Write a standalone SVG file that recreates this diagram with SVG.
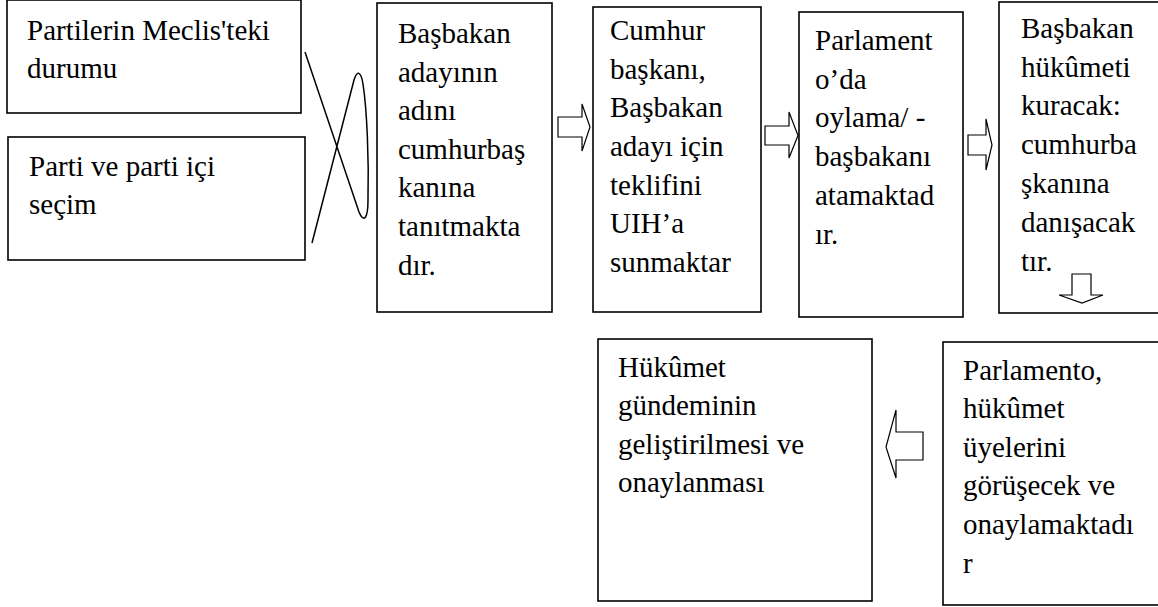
<svg xmlns="http://www.w3.org/2000/svg" width="1158" height="607" viewBox="0 0 1158 607" font-family="Liberation Serif, Times New Roman, serif">
<style>
.box{fill:#fff;stroke:#000;stroke-width:1.6}
.t{font-size:29px;fill:#000}
.arr{fill:#fff;stroke:#000;stroke-width:1.2;stroke-linejoin:miter}
.con{fill:none;stroke:#000;stroke-width:1.5}
</style>
<rect width="1158" height="607" fill="#fff"/>
<g id="n1"><rect class="box" x="7" y="0" width="294" height="113"/>
<text class="t" font-family="Liberation Serif, serif"><tspan x="27" y="40">Partilerin Meclis'teki</tspan><tspan x="27" y="78">durumu</tspan></text></g>
<g id="n2"><rect class="box" x="8" y="137" width="297" height="123"/>
<text class="t" font-family="Liberation Serif, serif"><tspan x="29" y="176">Parti ve parti içi</tspan><tspan x="29" y="214">seçim</tspan></text></g>
<g id="n3"><rect class="box" x="377" y="3" width="175" height="309"/>
<text class="t" font-family="Liberation Serif, serif"><tspan x="398" y="43">Başbakan</tspan><tspan x="398" y="82">adayının</tspan><tspan x="398" y="120">adını</tspan><tspan x="398" y="159">cumhurbaş</tspan><tspan x="398" y="197">kanına</tspan><tspan x="398" y="236">tanıtmakta</tspan><tspan x="398" y="275">dır.</tspan></text></g>
<g id="n4"><rect class="box" x="593" y="7" width="168" height="305"/>
<text class="t" font-family="Liberation Serif, serif"><tspan x="610" y="40">Cumhur</tspan><tspan x="610" y="79">başkanı,</tspan><tspan x="610" y="117">Başbakan</tspan><tspan x="610" y="156">adayı için</tspan><tspan x="610" y="195">teklifini</tspan><tspan x="610" y="233">UIH’a</tspan><tspan x="610" y="272">sunmaktar</tspan></text></g>
<g id="n5"><rect class="box" x="799" y="12" width="164" height="305"/>
<text class="t" font-family="Liberation Serif, serif"><tspan x="815" y="50">Parlament</tspan><tspan x="815" y="89">o’da</tspan><tspan x="815" y="127">oylama/ -</tspan><tspan x="815" y="166">başbakanı</tspan><tspan x="815" y="205">atamaktad</tspan><tspan x="815" y="244">ır.</tspan></text></g>
<g id="n6"><rect class="box" x="999" y="2" width="170" height="311"/>
<text class="t" font-family="Liberation Serif, serif"><tspan x="1021" y="38">Başbakan</tspan><tspan x="1021" y="77">hükûmeti</tspan><tspan x="1021" y="115">kuracak:</tspan><tspan x="1021" y="154">cumhurba</tspan><tspan x="1021" y="193">şkanına</tspan><tspan x="1021" y="232">danışacak</tspan><tspan x="1021" y="271">tır.</tspan></text></g>
<g id="n7"><rect class="box" x="598" y="339" width="274" height="262"/>
<text class="t" font-family="Liberation Serif, serif"><tspan x="618" y="377">Hükûmet</tspan><tspan x="618" y="415">gündeminin</tspan><tspan x="618" y="454">geliştirilmesi ve</tspan><tspan x="618" y="492">onaylanması</tspan></text></g>
<g id="n8"><rect class="box" x="943" y="342" width="230" height="263"/>
<text class="t" font-family="Liberation Serif, serif"><tspan x="963" y="380">Parlamento,</tspan><tspan x="963" y="418">hükûmet</tspan><tspan x="963" y="457">üyelerini</tspan><tspan x="963" y="495">görüşecek ve</tspan><tspan x="963" y="534">onaylamaktadı</tspan><tspan x="963" y="573">r</tspan></text></g>
<g id="connectors">
<path class="con" d="M305,52 L359,212 C363,222 368,221 368,200 C369,160 367,110 363,84 C361,71 357,70 354,80 L312,243"/>
<polygon class="arr" points="558,117 582,117 582,104 590,127 582,151 582,137 558,137"/>
<polygon class="arr" points="765,126 789,126 789,112 798,135.5 789,158 789,145 765,145"/>
<polygon class="arr" points="968,135 986,135 986,119 992,145 986,170 986,155 968,155"/>
<polygon class="arr" points="1072,274 1091,274 1091,295 1103,295 1082,303 1059,295 1072,295"/>
<polygon class="arr" points="923,432 896,432 896,410 886,447 896,478 896,460 923,460"/>
</g>
</svg>
